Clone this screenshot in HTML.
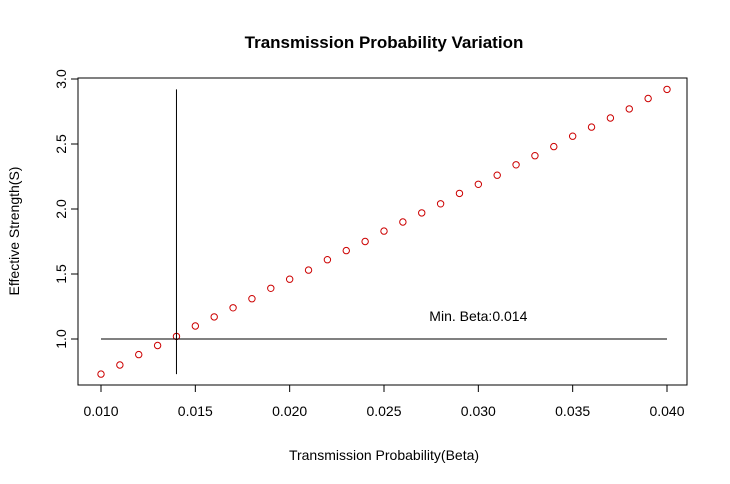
<!DOCTYPE html>
<html><head><meta charset="utf-8"><style>
body{margin:0;background:#fff;}
svg{display:block;font-family:"Liberation Sans",Arial,sans-serif;}
</style></head><body>
<svg id="chart" width="730" height="484">
<rect width="730" height="484" fill="#fff"/>
<text x="384" y="48" text-anchor="middle" font-size="17" font-weight="bold">Transmission Probability Variation</text>
<rect x="78" y="78" width="609" height="307" fill="none" stroke="#000"/>
<text x="384" y="460" text-anchor="middle" font-size="14">Transmission Probability(Beta)</text>
<text transform="translate(19,231) rotate(-90)" text-anchor="middle" font-size="14">Effective Strength(S)</text>
<g id="axes"></g>
<g id="marks"></g>
</svg>
<script>
const betas=[0.010,0.011,0.012,0.013,0.014,0.015,0.016,0.017,0.018,0.019,0.020,0.021,0.022,0.023,0.024,0.025,0.026,0.027,0.028,0.029,0.030,0.031,0.032,0.033,0.034,0.035,0.036,0.037,0.038,0.039,0.040];
const strengths=[0.73,0.80,0.88,0.95,1.02,1.10,1.17,1.24,1.31,1.39,1.46,1.53,1.61,1.68,1.75,1.83,1.90,1.97,2.04,2.12,2.19,2.26,2.34,2.41,2.48,2.56,2.63,2.70,2.77,2.85,2.92];
const xTicks=[0.010,0.015,0.020,0.025,0.030,0.035,0.040];
const xTickLabels=["0.010","0.015","0.020","0.025","0.030","0.035","0.040"];
const yTicks=[1.0,1.5,2.0,2.5,3.0];
const yTickLabels=["1.0","1.5","2.0","2.5","3.0"];
const minBeta=[0.014];
const threshold=[1.0];
const annotation=["Min. Beta:0.014"];

const NS="http://www.w3.org/2000/svg";
const xs=v=>101+(v-0.010)/0.030*566;
const ys=v=>339-(v-1.0)*130;
function mk(tag,attrs,parent){const e=document.createElementNS(NS,tag);for(const k in attrs)e.setAttribute(k,attrs[k]);parent.appendChild(e);return e;}
const ax=document.getElementById('axes'), mg=document.getElementById('marks');

let l=mk('line',{x1:xs(xTicks[0]),x2:xs(xTicks[xTicks.length-1]),y1:385,y2:385,stroke:'#000'},ax);


xTicks.forEach((t,i)=>{
  const tk=mk('line',{x1:xs(t),x2:xs(t),y1:385,y2:392,stroke:'#000'},ax);
  
  
  const tx=mk('text',{x:xs(t),y:416,'text-anchor':'middle','font-size':14},ax);
  tx.textContent=xTickLabels[i];
  
  
});
l=mk('line',{x1:78,x2:78,y1:ys(yTicks[0]),y2:ys(yTicks[yTicks.length-1]),stroke:'#000'},ax);


yTicks.forEach((t,i)=>{
  const tk=mk('line',{x1:71,x2:78,y1:ys(t),y2:ys(t),stroke:'#000'},ax);
  
  
  const tx=mk('text',{transform:`translate(66,${ys(t)}) rotate(-90)`,'text-anchor':'middle','font-size':14},ax);
  tx.textContent=yTickLabels[i];
  
  
});
betas.forEach((b,i)=>{
  const c=mk('circle',{cx:xs(b),cy:ys(strengths[i]),r:3.2,fill:'none',stroke:'#cc0000','stroke-width':1},mg);
  
  
});
let v=mk('line',{x1:xs(minBeta[0]),x2:xs(minBeta[0]),y1:ys(strengths[0]),y2:ys(strengths[strengths.length-1]),stroke:'#000'},mg);


let h=mk('line',{x1:xs(betas[0]),x2:xs(betas[betas.length-1]),y1:ys(threshold[0]),y2:ys(threshold[0]),stroke:'#000'},mg);


let an=mk('text',{x:xs(0.030),y:ys(1.2)+8,'text-anchor':'middle','font-size':14},mg);
an.textContent=annotation[0];


</script>
</body></html>
